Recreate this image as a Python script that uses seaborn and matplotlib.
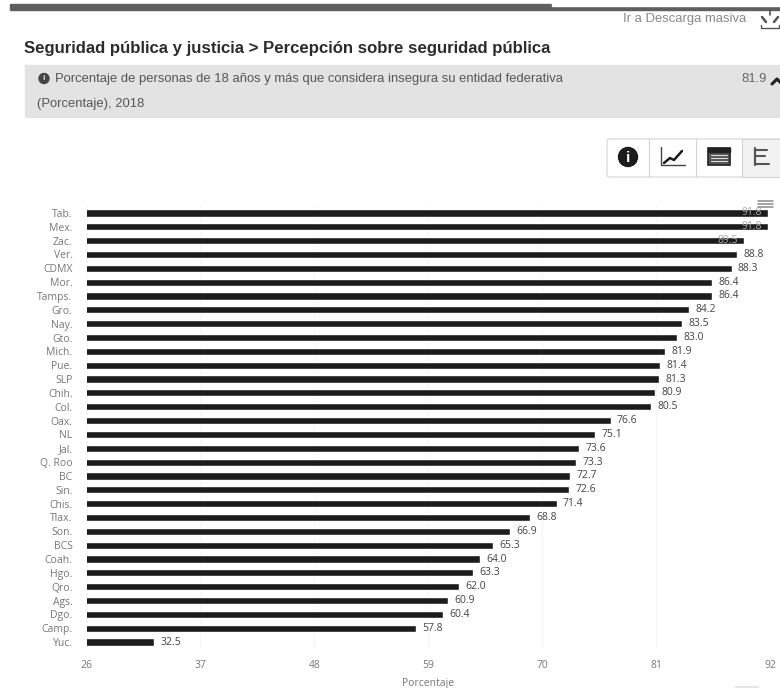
import matplotlib
matplotlib.use("Agg")
import matplotlib.pyplot as plt
from matplotlib.patches import Rectangle, Circle, FancyBboxPatch
import seaborn as sns
import pandas as pd

estados = ["Tab.", "Mex.", "Zac.", "Ver.", "CDMX", "Mor.", "Tamps.", "Gro.", "Nay.", "Gto.",
           "Mich.", "Pue.", "SLP", "Chih.", "Col.", "Oax.", "NL", "Jal.", "Q. Roo", "BC",
           "Sin.", "Chis.", "Tlax.", "Son.", "BCS", "Coah.", "Hgo.", "Qro.", "Ags.", "Dgo.",
           "Camp.", "Yuc."]
valores = [91.8, 91.8, 89.5, 88.8, 88.3, 86.4, 86.4, 84.2, 83.5, 83.0,
           81.9, 81.4, 81.3, 80.9, 80.5, 76.6, 75.1, 73.6, 73.3, 72.7,
           72.6, 71.4, 68.8, 66.9, 65.3, 64.0, 63.3, 62.0, 60.9, 60.4,
           57.8, 32.5]
x_ticks = [26, 37, 48, 59, 70, 81, 92]

W, H = 780, 688

sns.set_theme(style="white")
plt.rcParams["font.family"] = ["Liberation Sans", "DejaVu Sans"]

fig = plt.figure(figsize=(W / 100, H / 100), dpi=100)

# chart area, pixel box
ax = fig.add_axes([86.5 / W, 1 - 649 / H, (770 - 86.5) / W, (649 - 206) / H])
df = pd.DataFrame({"estado": estados, "valor": valores})
sns.barplot(data=df, x="valor", y="estado", ax=ax, color="#1c1c1c", width=0.52,
            saturation=1, orient="h")
ax.set_xlim(26, 92)
ax.set_ylim(31.5, -0.5)
ax.set_xticks(x_ticks)
ax.set_xlabel("Porcentaje", fontsize=7.5, color="#777777", labelpad=5, family="Open Sans")
ax.set_ylabel("")
ax.tick_params(axis="both", length=0, labelsize=7.5, labelcolor="#777777")
ax.tick_params(axis="y", pad=10)
ax.tick_params(axis="x", pad=8)
for t in ax.get_xticklabels() + ax.get_yticklabels():
    t.set_family("Open Sans")
ax.grid(axis="x", color="#f5f5f5", linewidth=0.8)
ax.set_axisbelow(True)
sns.despine(ax=ax, left=True, bottom=True)

fuera = ["" if v > 89 else "%.1f" % v for v in valores]
dentro = ["%.1f" % v if v > 89 else "" for v in valores]
ax.bar_label(ax.containers[0], labels=fuera, padding=4.5, fontsize=7.5, color="#444444",
             family="Open Sans")
ax.bar_label(ax.containers[0], labels=dentro, padding=-19, fontsize=7.5, color="#a8a8a8",
             family="Open Sans")

# page around the chart, in pixels
page = fig.add_axes([0, 0, 1, 1], zorder=5)
page.set_xlim(0, W)
page.set_ylim(H, 0)
page.axis("off")
page.patch.set_alpha(0)

page.add_patch(Rectangle((10, 4), 770, 6, color="#5f5f5f"))
page.add_patch(Rectangle((552, 2), 228, 4, color="#ffffff"))
page.text(746, 19, "Ir a Descarga masiva", ha="right", va="center", fontsize=9.4, color="#888888")
page.plot([761, 761, 779, 779], [25, 28, 28, 25], color="#555555", lw=1)
page.plot([770, 770], [10, 15], color="#555555", lw=1.2)
page.plot([762, 766], [17, 22], color="#555555", lw=1.8)
page.plot([778, 774], [17, 22], color="#555555", lw=1.8)

page.text(24, 49, "Seguridad pública y justicia > Percepción sobre seguridad pública",
          ha="left", va="center", fontsize=12.05, fontweight="bold", color="#2c2c2c")

page.add_patch(Rectangle((25, 65), 755, 52, color="#e3e3e3"))
page.add_patch(Circle((44, 78.5), 5, color="#444444"))
page.text(44, 78.5, "i", ha="center", va="center", fontsize=6, fontweight="bold", color="#e3e3e3")
page.text(55, 79, "Porcentaje de personas de 18 años y más que considera insegura su entidad federativa",
          ha="left", va="center", fontsize=9.4, color="#555555")
page.text(37, 104, "(Porcentaje), 2018", ha="left", va="center", fontsize=9.4, color="#555555")
page.text(767, 79, "81.9", ha="right", va="center", fontsize=9.4, color="#666666")
page.plot([772, 777, 782], [84, 79, 84], color="#222222", lw=2.2)

# view buttons
page.add_patch(FancyBboxPatch((609, 141), 180, 34, boxstyle="round,pad=2", fc="#ffffff",
                              ec="#d4d4d4", lw=0.8))
page.add_patch(Rectangle((742, 139.5), 38, 37, fc="#f2f2f2", ec="none"))
page.plot([742, 780], [139, 139], color="#d4d4d4", lw=0.8)
page.plot([742, 780], [177, 177], color="#d4d4d4", lw=0.8)
for x in [649, 696, 742]:
    page.plot([x, x], [139, 177], color="#d4d4d4", lw=0.8)
page.add_patch(Circle((628, 157), 9.5, color="#1c1c1c"))
page.text(628, 158, "i", ha="center", va="center", fontsize=11, fontweight="bold", color="#ffffff")
page.plot([661, 661, 685], [147, 165, 165], color="#444444", lw=1)
page.plot([664, 670, 674, 682], [163, 158, 160, 151], color="#1c1c1c", lw=1.8)
page.add_patch(Rectangle((708, 148), 22, 17, fc="#555555", ec="#222222", lw=1.2))
page.add_patch(Rectangle((708, 148), 22, 4, color="#222222"))
for y in [155, 158, 161]:
    page.plot([711, 727], [y, y], color="#dddddd", lw=0.8)
page.plot([755, 755], [148, 165], color="#555555", lw=1.6)
for y, fin in zip([150, 156, 164], [767, 765, 769]):
    page.plot([755, fin], [y, y], color="#555555", lw=1.5)

# menu icon on the chart
for y in [201, 204, 207]:
    page.plot([758, 773], [y, y], color="#8a8a8a", lw=1.1)

page.add_patch(Rectangle((735, 686), 23, 2, color="#e6e6e6"))

fig.savefig("out.png", dpi=100)
